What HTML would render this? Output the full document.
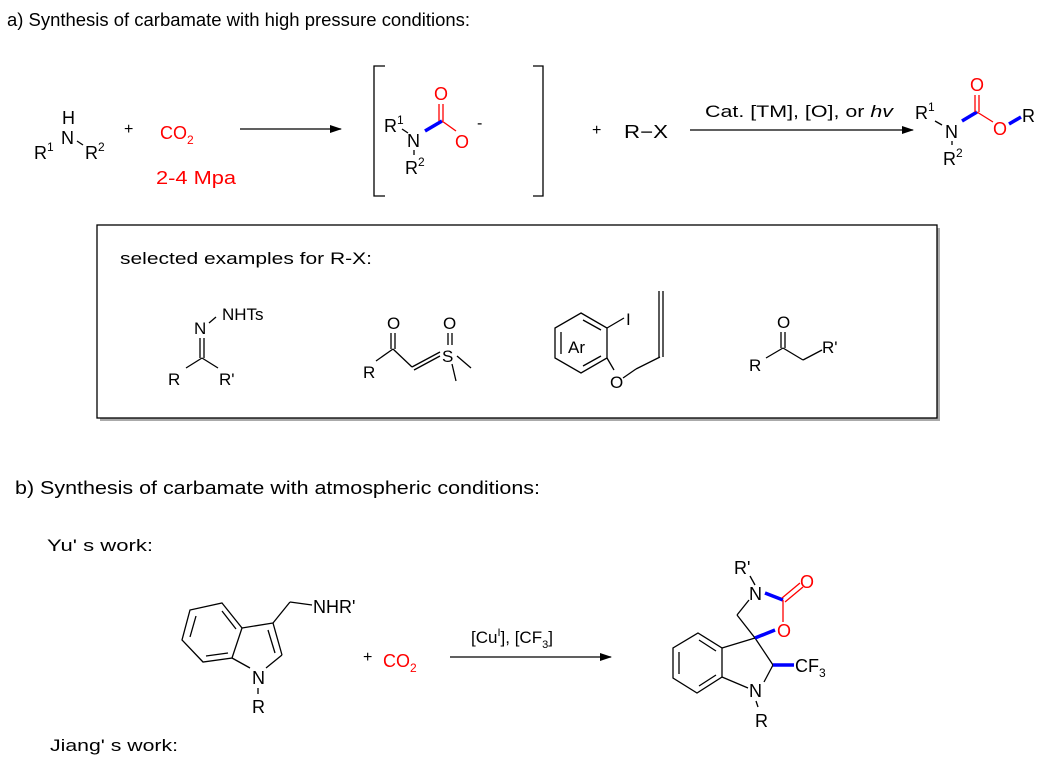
<!DOCTYPE html>
<html><head><meta charset="utf-8"><style>
html,body{margin:0;padding:0;background:#fff}
svg{display:block}
text{font-family:"Liberation Sans",sans-serif;fill:#000}
.r{fill:#f00}
.b{stroke:#000;stroke-width:1.3;fill:none}
.rl{stroke:#f00;stroke-width:1.3;fill:none}
.bl{stroke:#00f;stroke-width:3.5;fill:none}
</style></head><body>
<svg width="1063" height="759" viewBox="0 0 1063 759" xmlns="http://www.w3.org/2000/svg">
<defs><marker id="ah" markerWidth="12" markerHeight="8" refX="11" refY="4" orient="auto" markerUnits="userSpaceOnUse"><path d="M0,0 L12,4 L0,8 z" fill="#000"/></marker></defs>
<text x="7" y="26" font-size="18" textLength="463" lengthAdjust="spacingAndGlyphs">a) Synthesis of carbamate with high pressure conditions:</text>

<!-- amine -->
<text x="62" y="124" font-size="18">H</text>
<text x="61" y="144" font-size="18">N</text>
<text x="34" y="159" font-size="18">R<tspan font-size="12" dy="-8">1</tspan></text>
<line class="b" x1="77" y1="141" x2="83" y2="145"/>
<text x="85" y="159" font-size="18">R<tspan font-size="12" dy="-8">2</tspan></text>
<text x="124" y="134" font-size="16">+</text>
<text x="160" y="139" font-size="18" class="r">CO<tspan font-size="12" dy="5">2</tspan></text>
<text x="156" y="184" font-size="18" class="r" textLength="80" lengthAdjust="spacingAndGlyphs">2-4 Mpa</text>
<line class="b" x1="240" y1="129" x2="341" y2="129" marker-end="url(#ah)"/>

<!-- bracket intermediate -->
<path class="b" d="M385,66 H374 V196 H385"/>
<path class="b" d="M533,66 H543 V196 H533"/>
<text x="384" y="132" font-size="18">R<tspan font-size="12" dy="-8">1</tspan></text>
<line class="b" x1="402" y1="129" x2="408" y2="133"/>
<text x="407" y="147" font-size="18">N</text>
<line class="b" x1="414" y1="150" x2="414" y2="155"/>
<text x="405" y="174" font-size="18">R<tspan font-size="12" dy="-8">2</tspan></text>
<line class="bl" x1="425" y1="131" x2="442" y2="121"/>
<text x="434" y="100" font-size="18" class="r">O</text>
<line class="rl" x1="439" y1="104" x2="439" y2="121"/><line class="rl" x1="443" y1="104" x2="443" y2="121"/>
<line class="rl" x1="442" y1="121" x2="456" y2="131"/>
<text x="455" y="148" font-size="18" class="r">O</text>
<text x="477" y="128" font-size="16">-</text>

<text x="592" y="135" font-size="16">+</text>
<text x="624" y="138" font-size="18" textLength="44" lengthAdjust="spacingAndGlyphs">R−X</text>
<line class="b" x1="690" y1="130" x2="913" y2="130" marker-end="url(#ah)"/>
<text x="705" y="117" font-size="17" textLength="188" lengthAdjust="spacingAndGlyphs">Cat. [TM], [O], or <tspan font-style="italic">hv</tspan></text>

<!-- product -->
<text x="915" y="119" font-size="18">R<tspan font-size="12" dy="-8">1</tspan></text>
<line class="b" x1="935" y1="121" x2="942" y2="125"/>
<text x="945" y="138" font-size="18">N</text>
<line class="b" x1="952" y1="141" x2="952" y2="145"/>
<text x="943" y="165" font-size="18">R<tspan font-size="12" dy="-8">2</tspan></text>
<line class="bl" x1="962" y1="121" x2="977" y2="112"/>
<text x="970" y="91" font-size="18" class="r">O</text>
<line class="rl" x1="975" y1="95" x2="975" y2="112"/><line class="rl" x1="979" y1="95" x2="979" y2="112"/>
<line class="rl" x1="977" y1="112" x2="993" y2="122"/>
<text x="993" y="135" font-size="18" class="r">O</text>
<line class="bl" x1="1009" y1="124" x2="1021" y2="117"/>
<text x="1022" y="122" font-size="18">R</text>

<!-- box -->
<rect x="100" y="228" width="840" height="193" fill="#aaa"/>
<rect x="97" y="225" width="840" height="193" fill="#fff" stroke="#000" stroke-width="1.3"/>
<text x="120" y="264" font-size="17" textLength="252" lengthAdjust="spacingAndGlyphs">selected examples for R-X:</text>

<!-- ex1 -->
<text x="222" y="320" font-size="17">NHTs</text>
<line class="b" x1="209" y1="323" x2="216" y2="317"/>
<text x="194" y="334" font-size="17">N</text>
<line class="b" x1="200" y1="338" x2="200" y2="358"/><line class="b" x1="204" y1="338" x2="204" y2="358"/>
<line class="b" x1="202" y1="358" x2="186" y2="368"/><line class="b" x1="202" y1="358" x2="218" y2="368"/>
<text x="168" y="385" font-size="17">R</text>
<text x="219" y="385" font-size="17">R'</text>

<!-- ex2 -->
<text x="387" y="329" font-size="17">O</text>
<line class="b" x1="391" y1="333" x2="391" y2="349"/><line class="b" x1="395" y1="333" x2="395" y2="349"/>
<line class="b" x1="393" y1="349" x2="376" y2="361"/>
<text x="363" y="378" font-size="17">R</text>
<line class="b" x1="393" y1="349" x2="412" y2="367"/>
<line class="b" x1="412" y1="367" x2="440" y2="352"/><line class="b" x1="414" y1="370" x2="440" y2="356"/>
<text x="442" y="362" font-size="17">S</text>
<text x="443" y="329" font-size="17">O</text>
<line class="b" x1="448" y1="333" x2="448" y2="345"/><line class="b" x1="452" y1="333" x2="452" y2="345"/>
<line class="b" x1="457" y1="356" x2="471" y2="368"/>
<line class="b" x1="452" y1="364" x2="456" y2="381"/>

<!-- ex3 -->
<polygon class="b" points="581,313 607,328 607,358 581,373 555,358 555,328"/>
<line class="b" x1="561" y1="332" x2="561" y2="354"/>
<line class="b" x1="583" y1="320" x2="601" y2="330"/>
<line class="b" x1="583" y1="366" x2="601" y2="356"/>
<text x="568" y="353" font-size="17">Ar</text>
<line class="b" x1="607" y1="328" x2="624" y2="318"/>
<text x="626" y="325" font-size="17">I</text>
<line class="b" x1="607" y1="358" x2="614" y2="370"/>
<text x="610" y="388" font-size="17">O</text>
<line class="b" x1="623" y1="378" x2="636" y2="369"/><line class="b" x1="636" y1="369" x2="660" y2="357"/>
<line class="b" x1="659" y1="291" x2="659" y2="357"/><line class="b" x1="663" y1="291" x2="663" y2="357"/>

<!-- ex4 -->
<text x="777" y="328" font-size="17">O</text>
<line class="b" x1="781" y1="332" x2="781" y2="348"/><line class="b" x1="785" y1="332" x2="785" y2="348"/>
<line class="b" x1="783" y1="348" x2="766" y2="358"/>
<text x="749" y="371" font-size="17">R</text>
<line class="b" x1="783" y1="348" x2="803" y2="360"/><line class="b" x1="803" y1="360" x2="822" y2="350"/>
<text x="822" y="353" font-size="17">R'</text>

<text x="15" y="494" font-size="18" textLength="525" lengthAdjust="spacingAndGlyphs">b) Synthesis of carbamate with atmospheric conditions:</text>
<text x="47" y="551" font-size="17" textLength="106" lengthAdjust="spacingAndGlyphs">Yu' s work:</text>
<text x="50" y="751" font-size="17" textLength="128" lengthAdjust="spacingAndGlyphs">Jiang' s work:</text>

<!-- indole -->
<polygon class="b" points="222,603 242,628 232,658 203,662 182,640 190,610"/>
<line class="b" x1="190" y1="637" x2="196" y2="616"/>
<line class="b" x1="206" y1="656" x2="228" y2="653"/>
<line class="b" x1="222" y1="611" x2="236" y2="629"/>
<line class="b" x1="242" y1="628" x2="273" y2="623"/>
<line class="b" x1="273" y1="623" x2="282" y2="655"/>
<line class="b" x1="268" y1="630" x2="275" y2="653"/>
<line class="b" x1="282" y1="655" x2="266" y2="668"/>
<line class="b" x1="232" y1="658" x2="250" y2="668"/>
<line class="b" x1="273" y1="623" x2="290" y2="602"/><line class="b" x1="290" y1="602" x2="312" y2="605"/>
<text x="313" y="613" font-size="18">NHR'</text>
<text x="252" y="684" font-size="18">N</text>
<line class="b" x1="258" y1="688" x2="258" y2="694"/>
<text x="252" y="713" font-size="18">R</text>
<text x="363" y="662" font-size="16">+</text>
<text x="383" y="667" font-size="18" class="r">CO<tspan font-size="12" dy="5">2</tspan></text>
<line class="b" x1="450" y1="657" x2="611" y2="657" marker-end="url(#ah)"/>
<text x="471" y="643" font-size="17">[Cu<tspan font-size="11" dy="-7">I</tspan><tspan dy="7">], [CF</tspan><tspan font-size="11" dy="5">3</tspan><tspan dy="-5">]</tspan></text>

<!-- product b -->
<polygon class="b" points="698,633 722,648 722,677 697,693 673,678 673,648"/>
<line class="b" x1="679" y1="652" x2="679" y2="674"/>
<line class="b" x1="699" y1="640" x2="716" y2="651"/>
<line class="b" x1="699" y1="686" x2="716" y2="675"/>
<line class="b" x1="722" y1="648" x2="755" y2="638"/>
<line class="b" x1="722" y1="677" x2="748" y2="688"/>
<line class="b" x1="755" y1="638" x2="773" y2="665"/>
<line class="b" x1="773" y1="665" x2="764" y2="682"/>
<text x="749" y="697" font-size="18">N</text>
<line class="b" x1="756" y1="701" x2="758" y2="707"/>
<text x="755" y="727" font-size="18">R</text>
<line class="bl" x1="773" y1="665" x2="794" y2="665"/>
<text x="795" y="672" font-size="18">CF<tspan font-size="12" dy="5">3</tspan></text>
<line class="b" x1="755" y1="638" x2="737" y2="615"/>
<line class="b" x1="737" y1="615" x2="749" y2="600"/>
<text x="749" y="600" font-size="18">N</text>
<line class="b" x1="755" y1="585" x2="750" y2="576"/>
<text x="734" y="574" font-size="18">R'</text>
<line class="bl" x1="765" y1="593" x2="783" y2="600"/>
<line class="bl" x1="755" y1="638" x2="775" y2="630"/>
<text x="777" y="637" font-size="18" class="r">O</text>
<line class="rl" x1="783" y1="622" x2="783" y2="600"/>
<line class="rl" x1="782" y1="598" x2="800" y2="583"/><line class="rl" x1="785" y1="602" x2="803" y2="587"/>
<text x="800" y="588" font-size="18" class="r">O</text>
</svg>
</body></html>
